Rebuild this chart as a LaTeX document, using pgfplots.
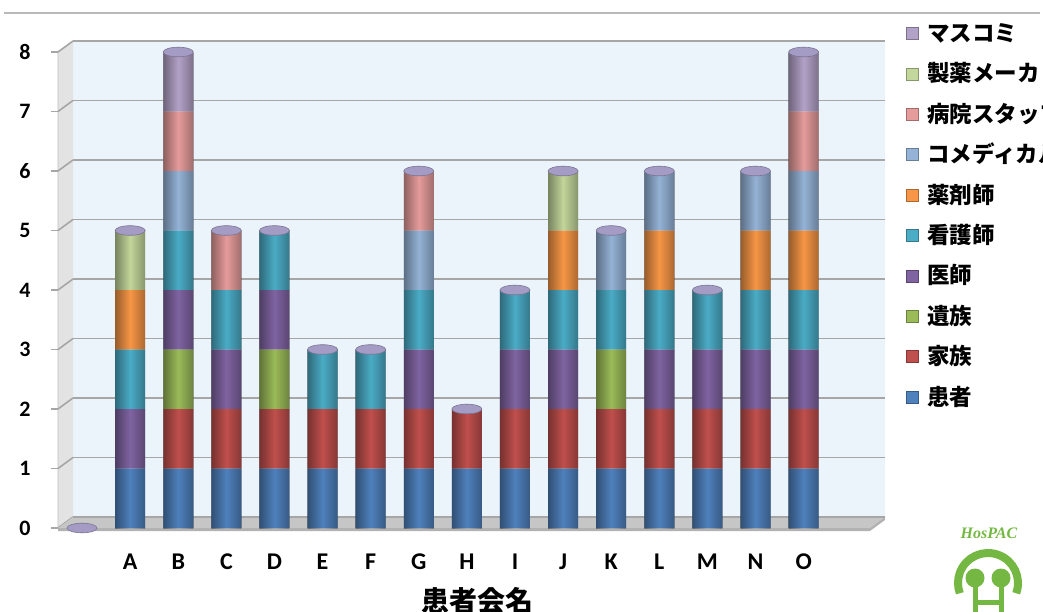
\documentclass[border=0pt]{standalone}
\usepackage{fontspec}
\setmainfont{Carlito}
\newfontfamily\cjk{Noto Sans CJK JP}
\newfontfamily\logofont{Liberation Serif}
\usepackage{pgfplots}
\pgfplotsset{compat=1.18}
\usepackage{pgfplotstable}

\definecolor{cPat}{HTML}{4F81BD}
\definecolor{cFam}{HTML}{C0504D}
\definecolor{cBer}{HTML}{9BBB59}
\definecolor{cDoc}{HTML}{8064A2}
\definecolor{cNur}{HTML}{4BACC6}
\definecolor{cPha}{HTML}{F79646}
\definecolor{cCom}{HTML}{95B3D7}
\definecolor{cHos}{HTML}{E59C9B}
\definecolor{cMak}{HTML}{C3D69B}
\definecolor{cMed}{HTML}{B3A2C7}
\definecolor{cTop}{HTML}{A49CC4}
\definecolor{wall}{HTML}{EBF3FB}
\definecolor{gridc}{HTML}{A6A6A6}
\definecolor{logog}{HTML}{74B843}

% members per patient group: x = group index (0 = empty slot, 1..15 = A..O)
\pgfplotstableread{
x  pat fam ber doc nur pha com hos mak med tot
0  0   0   0   0   0   0   0   0   0   0   0
1  1   0   0   1   1   1   0   0   1   0   5
2  1   1   1   1   1   0   1   1   0   1   8
3  1   1   0   1   1   0   0   1   0   0   5
4  1   1   1   1   1   0   0   0   0   0   5
5  1   1   0   0   1   0   0   0   0   0   3
6  1   1   0   0   1   0   0   0   0   0   3
7  1   1   0   1   1   0   1   1   0   0   6
8  1   1   0   0   0   0   0   0   0   0   2
9  1   1   0   1   1   0   0   0   0   0   4
10 1   1   0   1   1   1   0   0   1   0   6
11 1   1   1   0   1   0   1   0   0   0   5
12 1   1   0   1   1   1   1   0   0   0   6
13 1   1   0   1   1   0   0   0   0   0   4
14 1   1   0   1   1   1   1   0   0   0   6
15 1   1   0   1   1   1   1   1   0   1   8
}\members

\pgfplotsset{
  seg/.style={draw=none, fill=#1,
    legend image code/.code={\fill[#1, draw=#1!70!black, line width=0.4pt]
      (0pt,-6pt) rectangle (12pt,6pt);}},
  frame/.style={
    at={(58pt,83pt)}, anchor=south west, scale only axis,
    width=812pt, height=476pt,
    xmin=-0.5, xmax=16.38, ymin=0, ymax=8, clip=false},
}

\begin{document}
\begin{tikzpicture}[x=1pt,y=1pt]
\useasboundingbox (0,0) rectangle (1043,611);

% rule under the heading
\draw[gray!55, line width=2.5pt] (4,598) -- (1040,598);

% 3D frame: back wall, side wall and floor
\fill[wall] (73,94) rectangle (885,570);
\fill[gray!22] (58,83) -- (73,94) -- (73,570) -- (58,559) -- cycle;
\draw[gray!50, line width=0.8pt] (58,83) -- (58,559) -- (73,570);
\foreach \v in {0,...,8}
  \draw[gridc, line width=1.6pt] (58,83+59.5*\v) -- (73,94+59.5*\v);
\fill[gray!45] (58,83) -- (870,83) -- (885,94) -- (73,94) -- cycle;
\fill[gray!60] (58,80) -- (870,80) -- (885,91) -- (885,94) -- (870,83) -- (58,83) -- cycle;

\begin{axis}[
  frame,
  ybar stacked, bar width=30pt,
  axis line style={draw=none},
  xtick={1,...,15},
  xticklabels={A,B,C,D,E,F,G,H,I,J,K,L,M,N,O},
  xtick style={draw=none},
  ytick={0,...,8}, ytick pos=left,
  ytick style={draw=gridc, line width=1.6pt},
  major tick length=7pt, tick align=outside,
  ymajorgrids,
  major grid style={draw=gridc, line width=1.6pt, xshift=15pt, yshift=11pt},
  /pgf/number format/assume math mode=true,
  yticklabel style={font=\bfseries\fontsize{22}{22}\selectfont, xshift=-17pt},
  xticklabel style={font=\bfseries\fontsize{24}{24}\selectfont, yshift=-15pt},
  reverse legend,
  legend style={at={(1.0443,1.0599)}, anchor=north west,
    draw=none, fill=none, inner sep=0pt, outer sep=0pt,
    font=\cjk\bfseries\fontsize{22.5}{22.5}\selectfont,
    row sep=20.4pt, column sep=9pt,
    nodes={inner sep=0pt, text height=18pt, text depth=2pt}},
  legend cell align=left,
]
\addplot[seg=cPat] table[x=x, y=pat] {\members};
\addlegendentry{患者}
\addplot[seg=cFam] table[x=x, y=fam] {\members};
\addlegendentry{家族}
\addplot[seg=cBer] table[x=x, y=ber] {\members};
\addlegendentry{遺族}
\addplot[seg=cDoc] table[x=x, y=doc] {\members};
\addlegendentry{医師}
\addplot[seg=cNur] table[x=x, y=nur] {\members};
\addlegendentry{看護師}
\addplot[seg=cPha] table[x=x, y=pha] {\members};
\addlegendentry{薬剤師}
\addplot[seg=cCom] table[x=x, y=com] {\members};
\addlegendentry{コメディカル}
\addplot[seg=cHos] table[x=x, y=hos] {\members};
\addlegendentry{病院スタッフ}
\addplot[seg=cMak] table[x=x, y=mak] {\members};
\addlegendentry{製薬メーカ}
\addplot[seg=cMed] table[x=x, y=med] {\members};
\addlegendentry{マスコミ}
\end{axis}

% rounding of each column (one path per column so the shading follows it)
% and the cylinder caps at the stack totals
\begin{axis}[frame, hide axis]
\pgfplotsinvokeforeach{1,...,15}{
  \addplot[ybar, bar width=30pt, bar shift=0pt, draw=none,
    blend mode=multiply,
    left color=black!38, right color=black!30, middle color=white,
    restrict x to domain=#1:#1]
    table[x=x, y=tot] {\members};
}
\addplot[only marks, mark=*, mark size=15pt,
  mark options={yscale=0.32, fill=cTop, draw=cTop!75!black, line width=0.6pt}]
  table[x=x, y=tot] {\members};
\end{axis}

\node[font=\cjk\bfseries\fontsize{28}{28}\selectfont] at (477,10) {患者会名};

% logo
\node[font=\logofont\bfseries\itshape\fontsize{16}{16}\selectfont, text=logog] at (989,78) {HosPAC};
\draw[logog, line width=8pt] (988,28) ++(-20:30) arc[start angle=-20, end angle=200, radius=30];
\fill[logog] (975,33) circle (9.5) (1001,33) circle (9.5);
\draw[logog, line width=5pt] (975,33) -- (975,-2) (1001,33) -- (1001,-2) (975,9) -- (1001,9);
\end{tikzpicture}
\end{document}
